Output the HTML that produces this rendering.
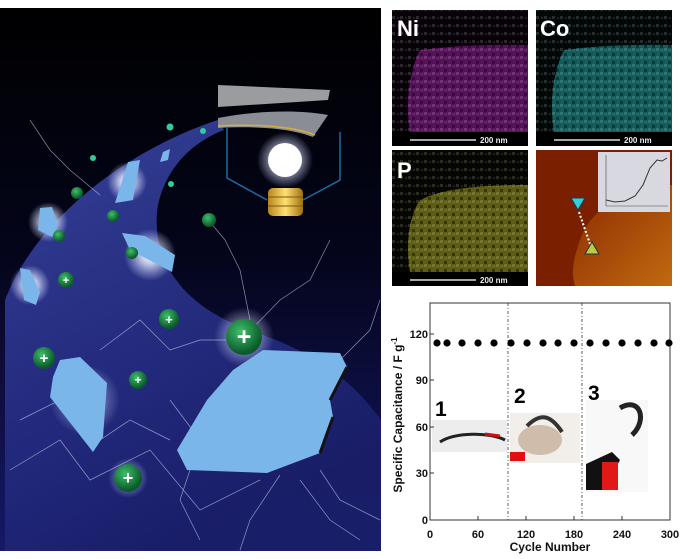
<!DOCTYPE html>
<html><head><meta charset="utf-8"><style>
html,body{margin:0;padding:0;background:#fff;width:694px;height:559px;overflow:hidden;font-family:"Liberation Sans",Arial,sans-serif}
</style></head><body>
<svg width="694" height="559" viewBox="0 0 694 559" xmlns="http://www.w3.org/2000/svg">
<defs>
<linearGradient id="bg" x1="0" y1="0" x2="0" y2="1">
<stop offset="0" stop-color="#000"/><stop offset="0.45" stop-color="#04051a"/><stop offset="1" stop-color="#161868"/>
</linearGradient>
<linearGradient id="cres" x1="0" y1="0" x2="0.4" y2="1">
<stop offset="0" stop-color="#3e4cb0"/><stop offset="0.6" stop-color="#28308a"/><stop offset="1" stop-color="#1a1f6a"/>
</linearGradient>
<radialGradient id="glow" cx="0.5" cy="0.5" r="0.5">
<stop offset="0" stop-color="#fff"/><stop offset="0.35" stop-color="#e8ecff" stop-opacity="0.8"/><stop offset="1" stop-color="#c8d0ff" stop-opacity="0"/>
</radialGradient>
<radialGradient id="ball" cx="0.4" cy="0.35" r="0.6">
<stop offset="0" stop-color="#3fbf6a"/><stop offset="1" stop-color="#0a5a2a"/>
</radialGradient>
<linearGradient id="gold" x1="0" y1="0" x2="1" y2="0">
<stop offset="0" stop-color="#b8861a"/><stop offset="0.5" stop-color="#ffe070"/><stop offset="1" stop-color="#a07010"/>
</linearGradient>
<pattern id="nz" width="8" height="8" patternUnits="userSpaceOnUse">
<rect width="8" height="8" fill="#000" fill-opacity="0.45"/>
<rect x="0" y="0" width="3" height="3" fill="#fff" fill-opacity="0.15"/>
<rect x="4" y="5" width="3" height="3" fill="#000" fill-opacity="0.4"/>
<rect x="5" y="1" width="2" height="2" fill="#fff" fill-opacity="0.1"/>
</pattern>
<linearGradient id="afm" x1="0" y1="0" x2="1" y2="1">
<stop offset="0" stop-color="#8a2a00"/><stop offset="1" stop-color="#c06a10"/>
</linearGradient>
<clipPath id="lp"><rect x="0" y="8" width="381" height="543"/></clipPath>
</defs>

<!-- Left artwork -->
<g clip-path="url(#lp)">
<rect x="0" y="8" width="381" height="543" fill="url(#bg)"/>
<path d="M218,120 C140,145 40,210 5,300 L5,551 L381,551 L381,420 C330,350 270,340 230,322 C178,298 150,255 158,205 C166,168 192,142 224,130 Z" fill="url(#cres)" opacity="0.85"/>
<g fill="url(#glow)">
<circle cx="48" cy="222" r="20"/><circle cx="127" cy="182" r="20"/><circle cx="30" cy="285" r="20"/>
<circle cx="150" cy="255" r="26"/><circle cx="85" cy="400" r="35" opacity="0.6"/><circle cx="244" cy="337" r="30" opacity="0.7"/>
<circle cx="128" cy="478" r="20" opacity="0.6"/>
</g>
<g stroke="#dfe4ff" stroke-width="0.7" fill="none" opacity="0.6">
<path d="M10,470 L60,440 L90,480 L150,450 L200,510 L260,480"/>
<path d="M250,320 L240,270 L225,240 L210,222"/>
<path d="M244,337 L280,300 L310,280 L330,240"/>
<path d="M100,350 L140,320 L170,350 L200,340 L240,340"/>
<path d="M30,120 L50,150 L70,170 L100,195"/>
<path d="M300,480 L330,520 L360,540"/>
<path d="M20,420 L60,400 L100,440 L130,420 L170,440"/>
<path d="M340,360 L370,330 L380,300"/>
<path d="M170,400 L200,440 L180,500 L200,540"/>
<path d="M280,475 L250,520 L240,550"/>
<path d="M320,470 L340,500 L380,520"/>
</g>
<!-- flakes -->
<g fill="#7ab6ea">
<polygon points="60,360 80,357 107,383 103,437 93,452 50,397 53,377"/>
<polygon points="177,450 207,400 233,370 263,350 340,353 347,367 330,400 333,417 320,453 267,473 187,470"/>
<polygon points="40,208 52,207 58,225 52,237 38,230"/>
<polygon points="20,268 30,270 40,292 36,305 24,300"/>
<polygon points="128,162 140,160 133,200 115,203"/>
<polygon points="122,233 145,236 175,255 172,272 130,250"/>
<polygon points="163,152 170,149 168,160 160,162"/>
</g>
<path d="M347,367 L330,400 M333,417 L320,453" stroke="#111" stroke-width="3" fill="none"/>
<!-- plus balls -->
<g font-weight="bold" fill="#fff" text-anchor="middle">
<circle cx="244" cy="337" r="18" fill="url(#ball)"/><text x="244" y="345" font-size="25">+</text>
<circle cx="44" cy="358" r="11" fill="url(#ball)"/><text x="44" y="363" font-size="15">+</text>
<circle cx="128" cy="478" r="14" fill="url(#ball)"/><text x="128" y="484" font-size="18">+</text>
<circle cx="138" cy="380" r="9" fill="url(#ball)"/><text x="138" y="384" font-size="12">+</text>
<circle cx="169" cy="319" r="10" fill="url(#ball)"/><text x="169" y="324" font-size="13">+</text>
<circle cx="66" cy="280" r="8" fill="url(#ball)"/><text x="66" y="284" font-size="11">+</text>
<circle cx="209" cy="220" r="7" fill="url(#ball)"/>
<circle cx="77" cy="193" r="6" fill="url(#ball)"/><circle cx="113" cy="216" r="6" fill="url(#ball)"/>
<circle cx="59" cy="236" r="6" fill="url(#ball)"/><circle cx="132" cy="253" r="6" fill="url(#ball)"/>
<circle cx="170" cy="127" r="3.5" fill="#3c9"/><circle cx="203" cy="131" r="3" fill="#3c9"/>
<circle cx="93" cy="158" r="3" fill="#3c9"/><circle cx="171" cy="184" r="3" fill="#3c9"/>
</g>
<!-- device -->
<polygon points="218,85 330,90 328,100 218,107" fill="#9a9ca0"/>
<path d="M218,118 C260,110 300,110 328,115 L313,137 C290,128 255,126 218,128 Z" fill="#8a8d94"/>
<path d="M218,126 C258,124 292,126 315,135" stroke="#d4b040" stroke-width="1.5" fill="none"/>
<polyline points="227,128 227,178 267,200" stroke="#1e6aa0" stroke-width="1.5" fill="none"/>
<polyline points="340,132 340,180 303,200" stroke="#1e6aa0" stroke-width="1.5" fill="none"/>
<circle cx="285" cy="160" r="28" fill="url(#glow)"/>
<circle cx="285" cy="160" r="17" fill="#fff"/>
<rect x="268" y="188" width="35" height="28" rx="5" fill="url(#gold)"/>
<g stroke="#7a5a10" stroke-width="1"><line x1="268" y1="197" x2="303" y2="197"/><line x1="268" y1="206" x2="303" y2="206"/></g>
</g>

<!-- EDS panels -->
<rect x="392" y="10" width="136" height="136" fill="#100410"/>
<path d="M420,50 C440,48 460,44 528,45 L528,132 L410,132 C405,100 410,70 420,50 Z" fill="#a020a8"/>
<rect x="392" y="10" width="136" height="136" fill="url(#nz)"/>
<rect x="392" y="132" width="136" height="14" fill="#000"/>
<line x1="410" y1="140" x2="476" y2="140" stroke="#ddd" stroke-width="1.5"/>
<text x="480" y="143" font-size="8" font-weight="bold" fill="#eee">200 nm</text>
<text x="397" y="36" font-size="22" font-weight="bold" fill="#fff">Ni</text>

<rect x="536" y="10" width="136" height="136" fill="#021010"/>
<path d="M564,50 C584,48 604,44 672,45 L672,132 L554,132 C549,100 554,70 564,50 Z" fill="#20a8a8"/>
<rect x="536" y="10" width="136" height="136" fill="url(#nz)"/>
<rect x="536" y="132" width="136" height="14" fill="#000"/>
<line x1="554" y1="140" x2="620" y2="140" stroke="#ddd" stroke-width="1.5"/>
<text x="624" y="143" font-size="8" font-weight="bold" fill="#eee">200 nm</text>
<text x="540" y="36" font-size="22" font-weight="bold" fill="#fff">Co</text>

<rect x="392" y="150" width="136" height="136" fill="#0c0c03"/>
<path d="M420,200 C440,190 470,185 528,185 L528,272 L410,272 C405,240 410,215 420,200 Z" fill="#a8a820"/>
<rect x="392" y="150" width="136" height="136" fill="url(#nz)"/>
<rect x="392" y="272" width="136" height="14" fill="#000"/>
<line x1="410" y1="280" x2="476" y2="280" stroke="#ddd" stroke-width="1.5"/>
<text x="480" y="283" font-size="8" font-weight="bold" fill="#eee">200 nm</text>
<text x="397" y="178" font-size="22" font-weight="bold" fill="#fff">P</text>

<rect x="536" y="150" width="136" height="136" fill="#7a2000"/>
<path d="M580,240 C590,210 620,190 672,185 L672,286 L575,286 C570,270 575,255 580,240 Z" fill="url(#afm)"/>
<rect x="598" y="152" width="72" height="60" fill="#d8d8e0"/>
<polyline points="606,200 615,202 625,201 635,196 643,185 650,168 657,160 662,161 667,158" stroke="#333" stroke-width="1" fill="none"/>
<line x1="606" y1="155" x2="606" y2="206" stroke="#444" stroke-width="0.6"/>
<line x1="606" y1="206" x2="668" y2="206" stroke="#444" stroke-width="0.6"/>
<polygon points="571,198 585,198 578,210" fill="#30d0d8" stroke="#235" stroke-width="1"/>
<line x1="579" y1="212" x2="590" y2="244" stroke="#fff" stroke-width="2" stroke-dasharray="2,2"/>
<polygon points="585,254 599,254 592,242" fill="#b8d040" stroke="#235" stroke-width="1"/>

<!-- Chart -->
<rect x="430" y="303" width="240" height="217" fill="#fff" stroke="#333" stroke-width="1"/>
<rect x="432" y="420" width="75" height="32" fill="#ededed"/>
<path d="M440,442 C455,432 490,432 505,440" stroke="#222" stroke-width="3" fill="none"/>
<path d="M485,434 L500,436" stroke="#d01010" stroke-width="3"/>
<rect x="510" y="413" width="70" height="50" fill="#f2efea"/>
<ellipse cx="540" cy="440" rx="22" ry="15" fill="#b89a80" opacity="0.6"/>
<path d="M527,426 C540,413 550,414 562,432" stroke="#333" stroke-width="4" fill="none"/>
<rect x="510" y="452" width="15" height="9" fill="#e01010"/>
<rect x="586" y="400" width="62" height="92" fill="#f8f8f8"/>
<path d="M620,408 C640,396 648,420 632,435" stroke="#222" stroke-width="5" fill="none"/>
<polygon points="586,464 612,452 620,460 604,490 586,490" fill="#111"/>
<rect x="602" y="462" width="16" height="28" fill="#e01818"/>
<line x1="508" y1="303" x2="508" y2="520" stroke="#333" stroke-width="0.8" stroke-dasharray="3,2,1,2"/>
<line x1="582" y1="303" x2="582" y2="520" stroke="#333" stroke-width="0.8" stroke-dasharray="3,2,1,2"/>
<g fill="#000">
<circle cx="437" cy="343" r="3.6"/><circle cx="447" cy="343" r="3.6"/><circle cx="462" cy="343" r="3.6"/><circle cx="478" cy="343" r="3.6"/><circle cx="494" cy="343" r="3.6"/><circle cx="511" cy="343" r="3.6"/><circle cx="527" cy="343" r="3.6"/><circle cx="543" cy="343" r="3.6"/><circle cx="558" cy="343" r="3.6"/><circle cx="574" cy="343" r="3.6"/><circle cx="590" cy="343" r="3.6"/><circle cx="606" cy="343" r="3.6"/><circle cx="622" cy="343" r="3.6"/><circle cx="638" cy="343" r="3.6"/><circle cx="654" cy="343" r="3.6"/><circle cx="669" cy="343" r="3.6"/>
</g>
<g font-size="21" font-weight="bold" fill="#000">
<text x="435" y="416">1</text><text x="514" y="403">2</text><text x="588" y="400">3</text>
</g>
<g stroke="#333" stroke-width="1">
<line x1="430" y1="520" x2="434" y2="520"/><line x1="430" y1="473" x2="434" y2="473"/><line x1="430" y1="427" x2="434" y2="427"/><line x1="430" y1="380" x2="434" y2="380"/><line x1="430" y1="334" x2="434" y2="334"/>
<line x1="478" y1="520" x2="478" y2="516"/><line x1="526" y1="520" x2="526" y2="516"/><line x1="574" y1="520" x2="574" y2="516"/><line x1="622" y1="520" x2="622" y2="516"/>
</g>
<g font-size="11" font-weight="bold" fill="#111" text-anchor="end">
<text x="428" y="524">0</text><text x="428" y="477">30</text><text x="428" y="431">60</text><text x="428" y="384">90</text><text x="428" y="338">120</text>
</g>
<g font-size="11" font-weight="bold" fill="#111" text-anchor="middle">
<text x="430" y="538">0</text><text x="478" y="538">60</text><text x="526" y="538">120</text><text x="574" y="538">180</text><text x="622" y="538">240</text><text x="670" y="538">300</text>
<text x="550" y="551" font-size="12">Cycle Number</text>
<text transform="translate(402,415) rotate(-90)" font-size="12">Specific Capacitance / F g<tspan font-size="8" dy="-5">-1</tspan></text>
</g>
</svg>
</body></html>
